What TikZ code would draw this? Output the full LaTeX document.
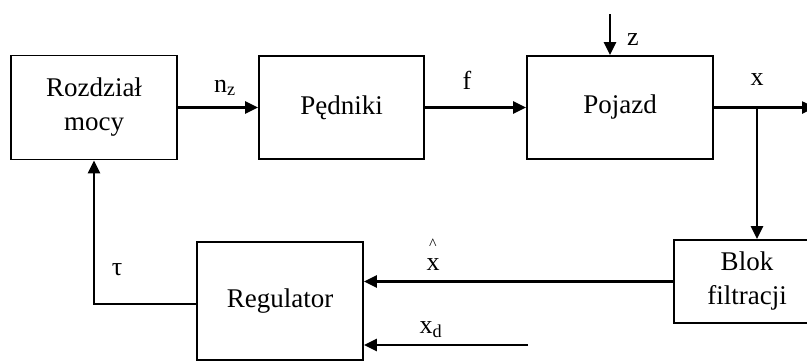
\documentclass[tikz,border=0pt]{standalone}
\usepackage{fontspec}
\setmainfont{Liberation Serif}
\usetikzlibrary{arrows.meta}
\tikzset{
  block/.style={draw, line width=1.8pt, align=center, inner sep=0pt,
    font=\fontsize{27}{34}\selectfont},
  arr/.style={line width=2.5pt, -{Triangle[length=13pt,width=12pt]}},
  lbl/.style={inner sep=0pt, font=\fontsize{26}{30}\selectfont},
}
\begin{document}
\begin{tikzpicture}[x=1pt, y=-1pt]
  \clip (0,0) rectangle (807,360);
  \fill[white] (0,0) rectangle (807,360);

  % blocks
  \node[block, minimum width=166pt, minimum height=104pt] (rozdz) at (94,107.5) {Rozdział\\mocy};
  \node[block, minimum width=165pt, minimum height=103pt] (pedn) at (341.5,107.5) {Pędniki};
  \node[block, minimum width=186pt, minimum height=103pt] (pojazd) at (620,107.5) {Pojazd};
  \node[block, minimum width=146pt, minimum height=83pt] (blok) at (747,281.5) {Blok\\filtracji};
  \node[block, minimum width=166pt, minimum height=118pt] (reg) at (280,301) {Regulator};

  % free ends of the signal lines
  \coordinate (zin) at (610,14);
  \coordinate (xend) at (815,107.5);
  \coordinate (br) at (757,107.5);
  \coordinate (xdin) at (528,345);
  \coordinate (tauout) at (197,304);

  % forward path
  \draw[arr] (rozdz.east) -- (pedn.west);
  \draw[arr] (pedn.east) -- (pojazd.west);
  \draw[arr] (zin) -- (zin |- pojazd.north);
  \draw[arr] (pojazd.east) -- (xend);

  % feedback path
  \draw[arr] (br) -- (br |- blok.north);
  \draw[arr] (blok.west) -- (blok.west -| reg.east);
  \draw[arr] (xdin) -- (xdin -| reg.east);
  \draw[arr] (tauout) -| (rozdz.south);

  % signal labels
  \node[lbl] (lnz) at (225,88) {n\textsubscript{z}};
  \node[lbl] (lf) at (467,80) {f};
  \node[lbl] (lz) at (633,40) {z};
  \node[lbl] (lx) at (757,80) {x};
  \node[lbl] (ltau) at (117,270) {τ};
  \node[lbl, anchor=base] (lxh) at (433,270)
    {\makebox[0pt][l]{\hspace{2.5pt}\raisebox{21pt}{\fontsize{16}{16}\selectfont\textasciicircum}}x};
  \node[lbl] (lxd) at (431,330) {x\textsubscript{d}};
\end{tikzpicture}
\end{document}
